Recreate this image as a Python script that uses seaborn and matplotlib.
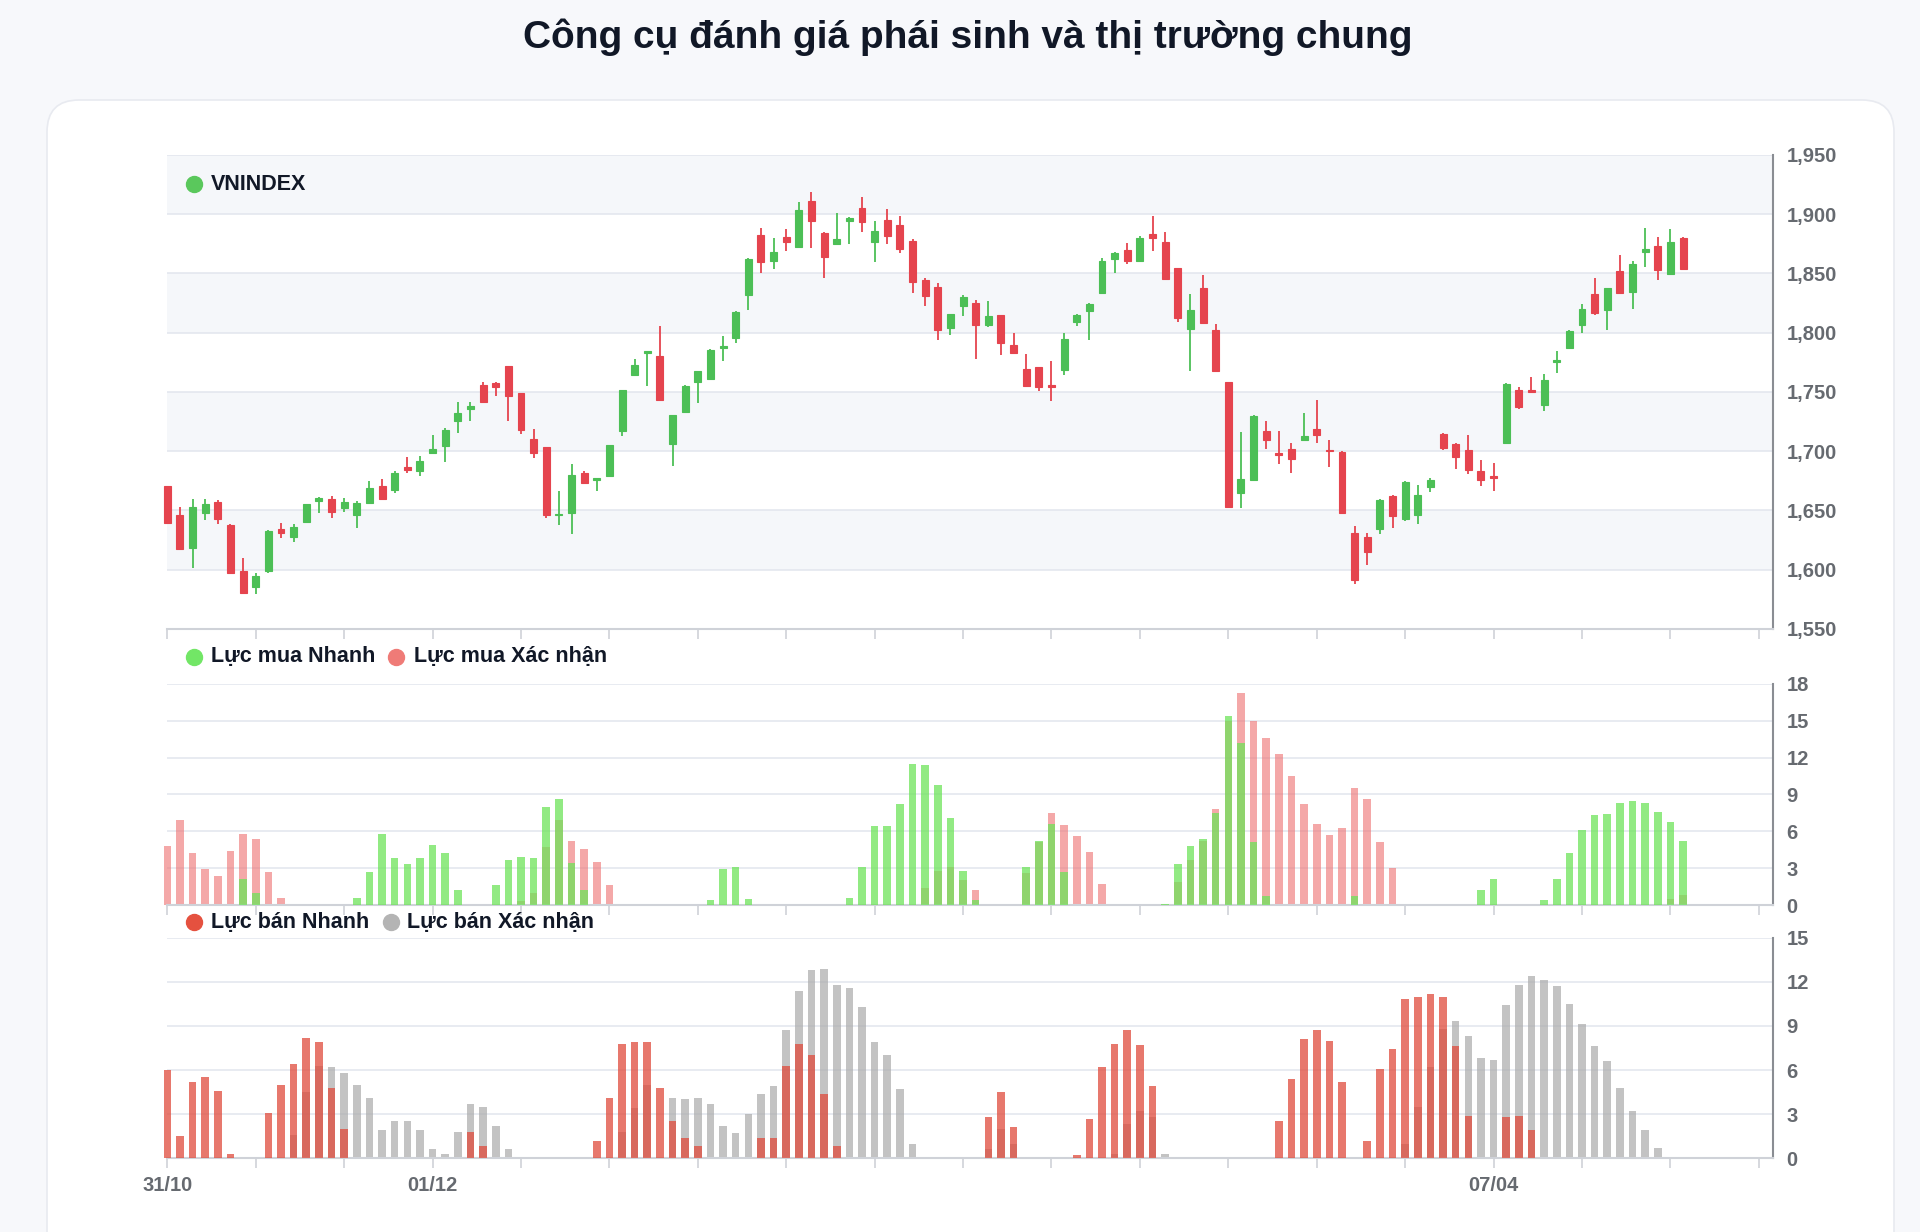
import numpy as np
import pandas as pd
import matplotlib.pyplot as plt
from matplotlib.patches import FancyBboxPatch
from matplotlib.lines import Line2D
from matplotlib.ticker import FuncFormatter
import seaborn as sns

sns.set_theme(style="white")
plt.rcParams["font.family"] = ["Liberation Sans", "DejaVu Sans"]

TITLE = "Công cụ đánh giá phái sinh và thị trường chung"
DATE_LABELS = ["31/10", "01/12", "07/04"]
DATE_POS = [0, 21, 105]

# VNINDEX daily candles
OPEN = [1670.5, 1645.8, 1618.5, 1648.0, 1657.3, 1637.6, 1598.9, 1585.7, 1598.9, 1634.0,
        1627.8, 1640.4, 1657.9, 1660.1, 1652.2, 1646.1, 1656.5, 1670.5, 1667.1, 1686.8,
        1683.7, 1698.6, 1704.8, 1725.8, 1735.7, 1756.2, 1757.6, 1772.2, 1749.2, 1710.7,
        1703.4, 1646.0, 1647.5, 1681.7, 1676.1, 1678.9, 1716.8, 1764.6, 1782.8, 1780.0,
        1706.4, 1732.8, 1758.4, 1760.9, 1787.5, 1795.2, 1832.0, 1882.5, 1860.9, 1880.6,
        1872.7, 1911.2, 1884.0, 1875.0, 1894.6, 1905.0, 1876.4, 1895.2, 1891.0, 1877.5,
        1844.6, 1838.2, 1803.9, 1822.2, 1825.0, 1806.7, 1814.6, 1789.3, 1769.3, 1770.7,
        1756.1, 1768.2, 1808.7, 1818.0, 1833.4, 1862.0, 1869.9, 1860.9, 1883.1, 1876.4,
        1854.5, 1803.3, 1837.6, 1802.0, 1758.4, 1664.9, 1676.1, 1717.4, 1698.6, 1701.9,
        1709.8, 1718.8, 1701.4, 1699.4, 1631.1, 1627.8, 1634.5, 1662.6, 1643.0, 1646.6,
        1669.6, 1714.8, 1706.4, 1700.8, 1683.1, 1678.9, 1707.0, 1751.4, 1751.4, 1738.7,
        1775.5, 1787.0, 1806.7, 1832.8, 1818.8, 1852.2, 1834.2, 1867.9, 1873.6, 1849.7,
        1879.7]
HIGH = [1670.5, 1652.8, 1659.3, 1659.8, 1658.7, 1639.0, 1610.1, 1597.5, 1633.2, 1639.6,
        1639.0, 1655.5, 1661.0, 1662.1, 1660.7, 1657.9, 1674.7, 1676.7, 1683.0, 1695.2,
        1696.3, 1714.0, 1719.7, 1741.3, 1741.3, 1758.4, 1758.4, 1772.2, 1749.2, 1718.8,
        1703.4, 1666.3, 1689.6, 1683.7, 1677.5, 1705.6, 1752.0, 1778.0, 1784.3, 1805.9,
        1731.0, 1756.0, 1768.0, 1786.0, 1796.9, 1818.0, 1863.0, 1888.2, 1879.7, 1887.6,
        1910.6, 1918.5, 1885.0, 1901.4, 1898.0, 1914.8, 1894.4, 1904.2, 1898.6, 1879.2,
        1846.0, 1842.4, 1816.0, 1832.0, 1827.8, 1827.0, 1815.0, 1799.7, 1782.0, 1771.5,
        1776.4, 1799.7, 1816.0, 1825.0, 1863.0, 1868.0, 1875.5, 1881.7, 1898.9, 1884.8,
        1855.0, 1832.8, 1848.8, 1807.3, 1758.4, 1716.0, 1730.5, 1725.2, 1716.8, 1707.0,
        1732.3, 1743.0, 1709.8, 1700.0, 1636.8, 1631.2, 1660.0, 1663.5, 1674.5, 1671.9,
        1677.5, 1715.4, 1707.0, 1714.0, 1693.0, 1690.1, 1757.5, 1754.2, 1762.6, 1765.1,
        1784.2, 1802.0, 1824.1, 1846.0, 1838.0, 1865.7, 1860.9, 1888.7, 1881.1, 1887.3,
        1880.5]
LOW = [1639.6, 1617.1, 1601.7, 1641.6, 1639.0, 1596.0, 1580.6, 1579.2, 1597.5, 1627.0,
       1623.6, 1640.0, 1648.0, 1643.3, 1648.6, 1635.4, 1656.5, 1659.0, 1664.9, 1681.7,
       1679.5, 1698.0, 1690.7, 1715.4, 1725.8, 1741.0, 1746.3, 1725.3, 1714.9, 1694.4,
       1643.3, 1637.4, 1629.8, 1672.0, 1666.3, 1678.0, 1713.2, 1764.0, 1754.7, 1743.0,
       1687.9, 1732.0, 1740.7, 1760.0, 1775.8, 1791.3, 1819.3, 1850.2, 1853.6, 1869.1,
       1872.0, 1871.3, 1846.0, 1874.0, 1875.0, 1884.8, 1859.5, 1875.0, 1867.1, 1833.4,
       1822.2, 1793.5, 1798.3, 1814.3, 1778.0, 1805.0, 1781.4, 1782.0, 1754.0, 1750.5,
       1742.1, 1764.6, 1805.3, 1793.5, 1833.0, 1850.2, 1857.8, 1859.5, 1869.4, 1844.7,
       1808.7, 1767.4, 1808.0, 1767.0, 1652.0, 1652.2, 1675.0, 1702.2, 1689.6, 1681.7,
       1709.0, 1707.0, 1686.5, 1647.0, 1587.6, 1603.9, 1630.3, 1635.4, 1641.0, 1638.2,
       1665.4, 1701.4, 1685.1, 1680.9, 1670.5, 1666.3, 1706.0, 1736.0, 1749.0, 1734.2,
       1766.0, 1786.0, 1799.7, 1815.0, 1802.5, 1833.0, 1819.9, 1855.9, 1844.1, 1849.0,
       1853.0]
CLOSE = [1639.6, 1617.1, 1652.8, 1655.6, 1643.0, 1597.5, 1580.6, 1594.7, 1632.6, 1631.2,
         1636.2, 1655.1, 1660.7, 1648.6, 1657.0, 1656.5, 1668.8, 1659.8, 1681.7, 1684.0,
         1691.6, 1702.2, 1717.7, 1732.3, 1737.9, 1741.3, 1753.9, 1746.9, 1718.3, 1698.6,
         1646.6, 1647.0, 1679.8, 1673.3, 1677.5, 1705.6, 1751.9, 1772.4, 1784.2, 1743.0,
         1730.9, 1755.3, 1767.4, 1785.1, 1789.0, 1817.1, 1862.0, 1859.5, 1867.9, 1876.9,
         1903.6, 1894.4, 1864.3, 1879.2, 1897.2, 1893.8, 1886.0, 1882.0, 1870.5, 1843.2,
         1830.6, 1802.5, 1815.7, 1829.8, 1806.7, 1813.8, 1791.3, 1782.8, 1755.3, 1754.2,
         1754.2, 1794.9, 1814.6, 1824.4, 1860.6, 1867.7, 1860.6, 1880.3, 1879.7, 1845.2,
         1812.4, 1818.8, 1808.1, 1768.0, 1652.8, 1677.0, 1729.5, 1709.8, 1696.6, 1693.8,
         1712.6, 1714.0, 1700.0, 1648.0, 1591.2, 1615.1, 1659.2, 1645.2, 1673.8, 1663.5,
         1675.5, 1702.8, 1695.2, 1684.0, 1675.5, 1677.5, 1757.0, 1737.0, 1749.7, 1759.8,
         1776.9, 1801.1, 1819.9, 1816.5, 1837.6, 1833.4, 1857.8, 1870.7, 1853.0, 1876.4,
         1853.6]

# buying pressure
BUY_FAST = [0, 0, 0, 0, 0, 0, 2.1, 1.0, 0, 0,
            0, 0, 0, 0, 0, 0.6, 2.7, 5.8, 3.8, 3.3,
            3.8, 4.9, 4.2, 1.2, 0, 0, 1.6, 3.7, 3.9, 3.8,
            8.0, 8.6, 3.4, 1.2, 0, 0, 0, 0, 0, 0,
            0, 0, 0, 0.4, 2.9, 3.1, 0.5, 0, 0, 0,
            0, 0, 0, 0, 0.6, 3.1, 6.4, 6.4, 8.2, 11.5,
            11.4, 9.8, 7.1, 2.8, 0.4, 0, 0, 0, 3.1, 5.2,
            6.6, 2.7, 0, 0, 0, 0, 0, 0, 0, 0.1,
            3.3, 4.8, 5.4, 7.5, 15.4, 13.2, 5.1, 0.7, 0, 0,
            0, 0, 0, 0, 0.7, 0, 0, 0, 0, 0,
            0, 0, 0, 0, 1.2, 2.1, 0, 0, 0, 0.4,
            2.1, 4.2, 6.1, 7.3, 7.4, 8.3, 8.5, 8.3, 7.6, 6.8,
            5.2]
BUY_CONF = [4.8, 6.9, 4.2, 2.9, 2.4, 4.4, 5.8, 5.4, 2.7, 0.6,
            0, 0, 0, 0, 0, 0, 0, 0, 0, 0,
            0, 0, 0, 0, 0, 0, 0, 0, 0.3, 1.0,
            4.7, 6.9, 5.2, 4.6, 3.5, 1.6, 0, 0, 0, 0,
            0, 0, 0, 0, 0, 0, 0, 0, 0, 0,
            0, 0, 0, 0, 0, 0, 0, 0, 0, 0,
            1.4, 2.8, 3.1, 2.0, 1.2, 0, 0, 0, 2.6, 5.1,
            7.5, 6.5, 5.6, 4.3, 1.7, 0, 0, 0, 0, 0,
            1.9, 3.7, 5.2, 7.8, 15.0, 17.3, 15.0, 13.6, 12.3, 10.5,
            8.2, 6.6, 5.7, 6.3, 9.5, 8.6, 5.1, 3.0, 0, 0,
            0, 0, 0, 0, 0, 0, 0, 0, 0, 0,
            0, 0, 0, 0, 0, 0, 0, 0, 0, 0.5,
            0.8]

# selling pressure
SELL_FAST = [6.0, 1.5, 5.2, 5.5, 4.6, 0.3, 0, 0, 3.1, 5.0,
             6.4, 8.2, 7.9, 4.8, 2.0, 0, 0, 0, 0, 0,
             0, 0, 0, 0, 1.8, 0.8, 0, 0, 0, 0,
             0, 0, 0, 0, 1.2, 4.1, 7.8, 7.9, 7.9, 4.8,
             2.5, 1.4, 0.8, 0, 0, 0, 0, 1.4, 1.4, 6.3,
             7.8, 7.0, 4.4, 0.8, 0, 0, 0, 0, 0, 0,
             0, 0, 0, 0, 0, 2.8, 4.5, 2.1, 0, 0,
             0, 0, 0.2, 2.7, 6.2, 7.8, 8.7, 7.7, 4.9, 0,
             0, 0, 0, 0, 0, 0, 0, 0, 2.5, 5.4,
             8.1, 8.7, 8.0, 5.2, 0, 1.2, 6.1, 7.4, 10.8, 11.0,
             11.2, 11.0, 7.6, 2.9, 0, 0, 2.8, 2.9, 1.9, 0,
             0, 0, 0, 0, 0, 0, 0, 0, 0, 0,
             0]
SELL_CONF = [0, 0, 0, 0, 0, 0, 0, 0, 0, 0,
             1.6, 4.5, 6.3, 6.2, 5.8, 5.0, 4.1, 1.9, 2.5, 2.5,
             1.9, 0.6, 0.3, 1.8, 3.7, 3.5, 2.2, 0.6, 0, 0,
             0, 0, 0, 0, 0, 0, 1.8, 3.4, 5.0, 0,
             4.1, 4.0, 4.1, 3.7, 2.2, 1.7, 3.0, 4.4, 4.9, 8.7,
             11.4, 12.8, 12.9, 11.8, 11.6, 10.3, 7.9, 7.0, 4.7, 1.0,
             0, 0, 0, 0, 0, 0.6, 2.0, 1.0, 0, 0,
             0, 0, 0, 0, 0, 0.3, 2.3, 3.2, 2.8, 0.3,
             0, 0, 0, 0, 0, 0, 0, 0, 0, 0,
             0, 0, 0, 0, 0, 0, 0, 0, 1.0, 3.5,
             6.2, 8.8, 9.3, 8.3, 6.8, 6.7, 10.4, 11.8, 12.4, 12.1,
             11.7, 10.5, 9.1, 7.6, 6.6, 4.8, 3.2, 1.9, 0.7, 0,
             0]

CANDLE_UP, CANDLE_DOWN = "#4cbf56", "#e5444e"
GRID = "#e4e7ef"
TICK_GREY = "#666a70"
TEXT_DARK = "#111827"

df = pd.DataFrame({"open": OPEN, "high": HIGH, "low": LOW, "close": CLOSE,
                   "buy_fast": BUY_FAST, "buy_conf": BUY_CONF,
                   "sell_fast": SELL_FAST, "sell_conf": SELL_CONF})
df["idx"] = np.arange(len(df))
XMAX = 127.1


def px(x, y):
    return x / 1920, 1 - y / 1232


fig = plt.figure(figsize=(19.2, 12.32), dpi=100)
fig.patch.set_facecolor("#f7f8fb")

# page card
bg = fig.add_axes([0, 0, 1, 1], zorder=-5)
bg.set_xlim(0, 1920)
bg.set_ylim(1232, 0)
bg.axis("off")
bg.add_patch(FancyBboxPatch((47, 100), 1847, 1200, boxstyle="round,pad=0,rounding_size=32",
                            fc="white", ec="#e8eaf0", lw=1.2))

L, W = 0.08714, 0.83615
ax1 = fig.add_axes([L, 0.48945, W, 0.38474])
ax2 = fig.add_axes([L, 0.26542, W, 0.17939])
ax3 = fig.add_axes([L, 0.0599, W, 0.17898])


def style_axis(ax, yticks, fmt=None):
    ax.set_facecolor("none")
    ax.set_xlim(0, XMAX)
    ax.set_ylim(yticks[0], yticks[-1])
    ax.set_yticks(yticks)
    ax.yaxis.tick_right()
    if fmt:
        ax.yaxis.set_major_formatter(FuncFormatter(fmt))
    ax.grid(axis="y", color=GRID, lw=1.2)
    ax.grid(axis="x", visible=False)
    ax.set_axisbelow(True)
    for s in ("top", "left"):
        ax.spines[s].set_visible(False)
    ax.spines["right"].set_color("#8a8d93")
    ax.spines["right"].set_linewidth(1.5)
    ax.spines["bottom"].set_color("#cfd2d8")
    ax.spines["bottom"].set_linewidth(1.5)
    ax.tick_params(axis="y", length=0, pad=10, labelsize=14.5, labelcolor=TICK_GREY)
    ax.tick_params(axis="x", bottom=True, length=7, width=1.2, color="#cfd2d8",
                   labelsize=14.5, labelcolor=TICK_GREY, pad=6)
    ax.set_xticks(np.arange(0, 127, 7))
    ax.set_xlabel("")
    ax.set_ylabel("")
    plt.setp(ax.get_yticklabels(), fontweight="bold")


# --- candlestick panel
for lo in (1600, 1700, 1800, 1900):
    ax1.axhspan(lo, lo + 50, color="#f5f7fa", zorder=0, lw=0)
up = df["close"] >= df["open"]
cols = np.where(up, CANDLE_UP, CANDLE_DOWN)
ax1.vlines(df["idx"], df["low"], df["high"], colors=cols, lw=1.3, zorder=2, clip_on=False)
body_lo = df[["open", "close"]].min(axis=1)
body_h = (df["close"] - df["open"]).abs()
ax1.bar(df["idx"], body_h, bottom=body_lo, width=0.55, color=cols, edgecolor=cols,
        lw=0.8, zorder=3, clip_on=False)
style_axis(ax1, list(range(1550, 1951, 50)), lambda v, p: f"{v:,.0f}")
ax1.tick_params(axis="x", labelbottom=False)

# --- buying panel
sns.barplot(x=df["idx"], y=df["buy_conf"], native_scale=True, width=0.6, color="#ee7373",
            saturation=1, alpha=0.62, errorbar=None, linewidth=0, ax=ax2, zorder=2)
sns.barplot(x=df["idx"], y=df["buy_fast"], native_scale=True, width=0.6, color="#6ee35a",
            saturation=1, alpha=0.75, errorbar=None, linewidth=0, ax=ax2, zorder=3)
style_axis(ax2, list(range(0, 19, 3)))
ax2.tick_params(axis="x", labelbottom=False)

# --- selling panel
sns.barplot(x=df["idx"], y=df["sell_conf"], native_scale=True, width=0.6, color="#acacac",
            saturation=1, alpha=0.72, errorbar=None, linewidth=0, ax=ax3, zorder=2)
sns.barplot(x=df["idx"], y=df["sell_fast"], native_scale=True, width=0.6, color="#e04b3c",
            saturation=1, alpha=0.75, errorbar=None, linewidth=0, ax=ax3, zorder=3)
style_axis(ax3, list(range(0, 16, 3)))
tick_pos = np.arange(0, 127, 7)
tick_lab = [DATE_LABELS[DATE_POS.index(t)] if t in DATE_POS else "" for t in tick_pos]
ax3.set_xticks(tick_pos, tick_lab)
plt.setp(ax3.get_xticklabels(), fontweight="bold")

for ax in (ax2, ax3):
    for p in ax.patches:
        p.set_clip_on(False)

# --- title and legends
fig.text(*px(968, 37), TITLE, ha="center", va="center", fontsize=28,
         fontweight="bold", color=TEXT_DARK)


def legend_item(xd, xt, y, color, label):
    fig.add_artist(Line2D([xd / 1920], [1 - y / 1232], transform=fig.transFigure,
                          marker="o", ms=11.5, color=color, lw=0, zorder=10))
    fig.text(*px(xt, y), label, ha="left", va="center", fontsize=15.5,
             fontweight="bold", color=TEXT_DARK, zorder=10)


legend_item(194, 211, 184, "#5ac85c", "VNINDEX")
legend_item(194, 211, 657, "#72e666", "Lực mua Nhanh")
legend_item(396, 414, 657, "#ef7b77", "Lực mua Xác nhận")
legend_item(194, 211, 922, "#e5513f", "Lực bán Nhanh")
legend_item(391, 407, 922, "#b4b4b4", "Lực bán Xác nhận")

fig.savefig("out.png", dpi=100, facecolor=fig.get_facecolor())
